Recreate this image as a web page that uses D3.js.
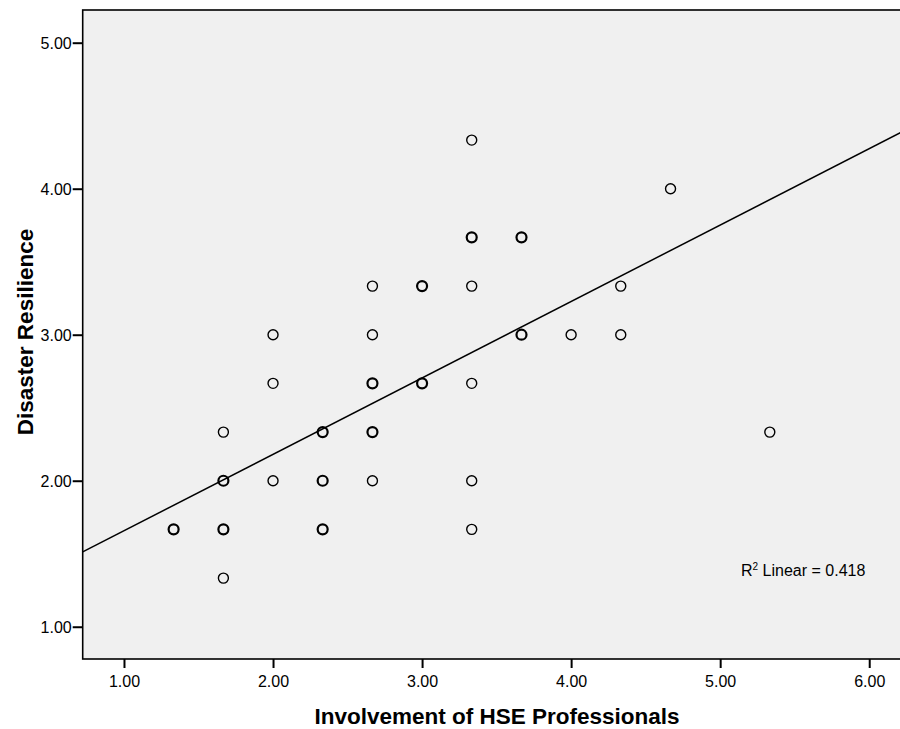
<!DOCTYPE html>
<html>
<head>
<meta charset="utf-8">
<script src="https://cdn.jsdelivr.net/npm/d3@7"></script>
<style>
  html, body { margin: 0; padding: 0; background: #fff; }
  svg { display: block; font-family: "Liberation Sans", Arial, sans-serif; }
</style>
</head>
<body>
<svg id="chart" width="900" height="729"></svg>
<script>
// Observed (x, y) pairs; count > 1 marks overlapping respondents
const hseInvolvement = [1.333, 1.667, 1.667, 1.667, 1.667, 2.0, 2.0, 2.0, 2.333, 2.333, 2.333,
  2.667, 2.667, 2.667, 2.667, 2.667, 3.0, 3.0, 3.333, 3.333, 3.333, 3.333, 3.333, 3.333,
  3.667, 3.667, 4.0, 4.333, 4.333, 4.667, 5.333];
const resilience = [1.667, 2.333, 2.0, 1.667, 1.333, 3.0, 2.667, 2.0, 2.333, 2.0, 1.667,
  3.333, 3.0, 2.667, 2.333, 2.0, 3.333, 2.667, 4.333, 3.667, 3.333, 2.667, 2.0, 1.667,
  3.667, 3.0, 3.0, 3.333, 3.0, 4.0, 2.333];
const counts = [2, 1, 2, 2, 1, 1, 1, 1, 2, 2, 2,
  1, 1, 2, 2, 1, 2, 2, 1, 2, 1, 1, 1, 1,
  2, 2, 1, 1, 1, 1, 1];

// Least-squares fit line
const fitIntercept = 1.134;
const fitSlope = 0.5234;
const rSquared = 0.418;

const xTicks = [1, 2, 3, 4, 5, 6];
const yTicks = [1, 2, 3, 4, 5];
const xDomain = [0.723, 6.23];
const yDomain = [0.779, 5.224];

const svg = d3.select("#chart");
const plot = { left: 82.7, top: 10, right: 903.5, bottom: 659 };

const x = d3.scaleLinear().domain(xDomain).range([plot.left, plot.right]);
const y = d3.scaleLinear().domain(yDomain).range([plot.bottom, plot.top]);

// plot background
svg.append("rect")
  .attr("x", plot.left).attr("y", plot.top)
  .attr("width", plot.right - plot.left).attr("height", plot.bottom - plot.top)
  .attr("fill", "#f0f0f0")
  .attr("stroke", "#000").attr("stroke-width", 1.6);

svg.append("clipPath").attr("id", "plotclip")
  .append("rect")
  .attr("x", plot.left).attr("y", plot.top)
  .attr("width", plot.right - plot.left).attr("height", plot.bottom - plot.top);

// axes
const xAxis = svg.append("g")
  .attr("transform", `translate(0,${plot.bottom})`)
  .call(d3.axisBottom(x).tickValues(xTicks).tickFormat(d3.format(".2f")).tickSize(9).tickSizeOuter(0));
const yAxis = svg.append("g")
  .attr("transform", `translate(${plot.left},0)`)
  .call(d3.axisLeft(y).tickValues(yTicks).tickFormat(d3.format(".2f")).tickSize(10).tickSizeOuter(0));

[xAxis, yAxis].forEach(g => {
  g.select(".domain").remove();
  g.selectAll(".tick line").attr("stroke", "#000").attr("stroke-width", 2);
  g.selectAll(".tick text").attr("fill", "#000").style("font-size", "16px")
    .style("font-family", "'Liberation Sans', Arial, sans-serif");
});
xAxis.selectAll(".tick text").attr("dy", null).attr("y", 28);
yAxis.selectAll(".tick text").attr("x", -11).attr("dy", "0.36em");

// regression line
const g = svg.append("g").attr("clip-path", "url(#plotclip)");
g.append("line")
  .attr("x1", x(xDomain[0])).attr("y1", y(fitIntercept + fitSlope * xDomain[0]))
  .attr("x2", x(xDomain[1])).attr("y2", y(fitIntercept + fitSlope * xDomain[1]))
  .attr("stroke", "#000").attr("stroke-width", 1.5);

// points
const points = hseInvolvement.map((v, i) => ({ x: v, y: resilience[i], n: counts[i] }));
g.selectAll("circle.pt")
  .data(points)
  .join("circle")
  .attr("class", "pt")
  .attr("cx", d => x(d.x))
  .attr("cy", d => y(d.y))
  .attr("r", 5)
  .attr("fill", "none")
  .attr("stroke", "#000")
  .attr("stroke-width", d => d.n > 1 ? 2.2 : 1.4);

// fit annotation
const ann = svg.append("text")
  .attr("x", 741).attr("y", 576)
  .style("font-size", "16px")
  .attr("fill", "#000");
ann.append("tspan").text("R");
ann.append("tspan").attr("dy", -6).style("font-size", "10px").text("2");
ann.append("tspan").attr("dy", 6).text(" Linear = " + d3.format(".3f")(rSquared));

// axis titles
svg.append("text")
  .attr("x", 497).attr("y", 724)
  .attr("text-anchor", "middle")
  .style("font-size", "22.5px").style("font-weight", "bold")
  .text("Involvement of HSE Professionals");

svg.append("text")
  .attr("transform", "translate(33,332) rotate(-90)")
  .attr("text-anchor", "middle")
  .style("font-size", "22.5px").style("font-weight", "bold")
  .text("Disaster Resilience");
</script>
</body>
</html>
